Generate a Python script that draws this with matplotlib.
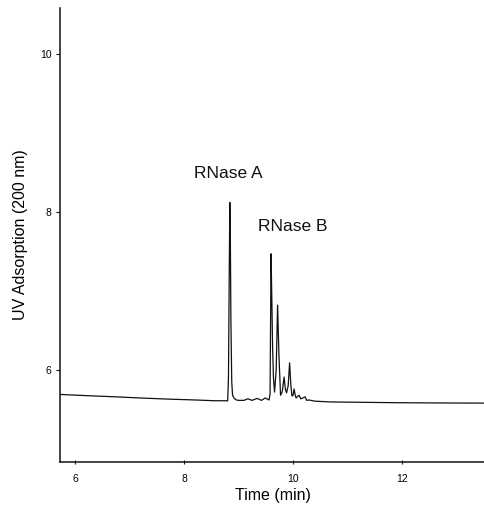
import numpy as np
import matplotlib
matplotlib.use("Agg")
import matplotlib.pyplot as plt

plt.rcParams['font.family'] = ['Liberation Sans', 'DejaVu Sans']

# trace: time (min) / UV signal
time_min = [5.725, 6.2, 6.73, 7.2, 7.74, 8.2, 8.57, 8.80,
            8.815, 8.83, 8.84, 8.85, 8.86, 8.875, 8.89, 8.92, 8.96, 9.0,
            9.1, 9.17, 9.25, 9.34, 9.42, 9.49, 9.53, 9.56,
            9.578, 9.596, 9.61, 9.624, 9.64, 9.66, 9.69, 9.716, 9.74, 9.77,
            9.80, 9.835, 9.86, 9.88, 9.91, 9.936, 9.96, 9.98, 10.0, 10.018,
            10.04, 10.055, 10.11, 10.14, 10.165, 10.22, 10.25, 10.29, 10.4,
            10.68, 11.3, 11.96, 12.7, 13.52]
signal = [5.69, 5.675, 5.66, 5.645, 5.63, 5.62, 5.61, 5.61,
          5.9, 7.3, 8.12, 7.6, 6.6, 5.85, 5.68, 5.64, 5.62, 5.615,
          5.615, 5.635, 5.615, 5.64, 5.615, 5.645, 5.63, 5.62,
          5.7, 7.47, 6.9, 6.3, 5.9, 5.72, 6.0, 6.82, 6.2, 5.68,
          5.72, 5.91, 5.75, 5.71, 5.8, 6.09, 5.8, 5.67, 5.68, 5.76,
          5.68, 5.645, 5.68, 5.635, 5.64, 5.66, 5.615, 5.62, 5.605,
          5.595, 5.59, 5.585, 5.582, 5.58]

peak_labels = ["RNase A", "RNase B"]
label_time = [8.81, 10.0]
label_signal = [8.49, 7.81]

x_ticks = [6, 8, 10, 12]
y_ticks = [6, 8, 10]

fig = plt.figure(figsize=(4.85, 5.08), dpi=100)
ax = fig.add_axes([60/485, 46/508, 1 - 60/485, 454/508])

ax.plot(time_min, signal, color="#111111", lw=0.9)

for txt, tx, ty in zip(peak_labels, label_time, label_signal):
    ax.text(tx, ty, txt, fontsize=12.5, ha="center", va="center", color="#111111")

ax.set_xlim(5.725, 13.52)
ax.set_ylim(4.835, 10.58)
ax.set_xticks(x_ticks)
ax.set_yticks(y_ticks)
ax.tick_params(axis="both", labelsize=7.5, width=0.8, length=3, color="#111111")
ax.tick_params(axis="x", direction="inout", pad=7)
ax.tick_params(axis="y", direction="out", pad=3)

for s in ["top", "right"]:
    ax.spines[s].set_visible(False)
for s in ["left", "bottom"]:
    ax.spines[s].set_linewidth(1.1)
    ax.spines[s].set_color("#111111")

ax.set_xlabel("Time (min)", fontsize=11.5, labelpad=3)
ax.set_ylabel("UV Adsorption (200 nm)", fontsize=11.5, labelpad=9)

fig.savefig("out.png", dpi=100)
